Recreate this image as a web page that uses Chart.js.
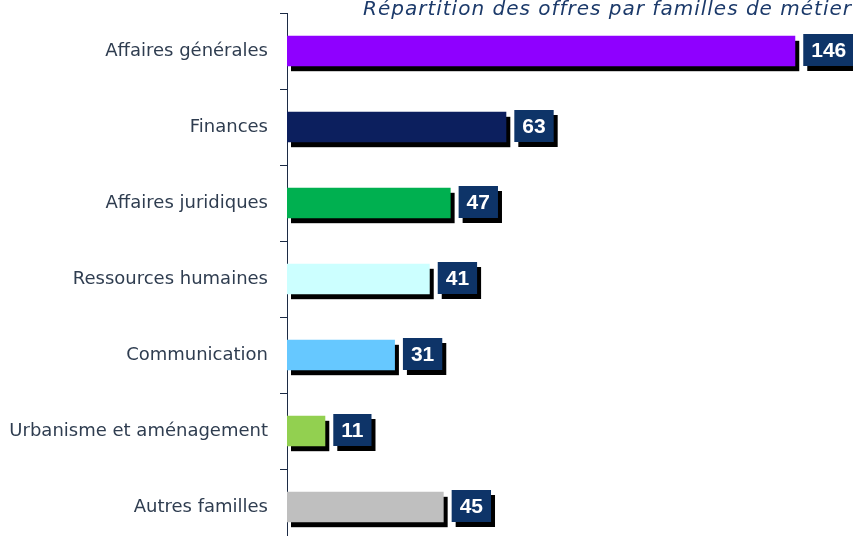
<!DOCTYPE html>
<html>
<head>
<meta charset="utf-8">
<script src="https://cdn.jsdelivr.net/npm/chart.js@4/dist/chart.umd.min.js"></script>
<style>
  html, body { margin: 0; padding: 0; background: #fff; overflow: hidden; }
  #wrap { width: 853px; height: 560px; }
</style>
</head>
<body>
<div id="wrap"><canvas id="myChart" width="853" height="560"></canvas></div>
<script>
var familles = ["Affaires générales", "Finances", "Affaires juridiques", "Ressources humaines",
                "Communication", "Urbanisme et aménagement", "Autres familles"];
var offres = [146, 63, 47, 41, 31, 11, 45];
var couleurs = ["#8f00ff", "#0c1f5e", "#00b050", "#ccffff", "#66c8ff", "#92d050", "#bfbfbf"];
var titre = "Répartition des offres par familles de métier";

// shadow under each bar
var ombres = {
  id: "ombres",
  beforeDatasetsDraw: function (chart) {
    var ctx = chart.ctx;
    ctx.save();
    ctx.fillStyle = "#000";
    chart.getDatasetMeta(0).data.forEach(function (bar) {
      var h = bar.height;
      ctx.fillRect(bar.base + 4, bar.y - h / 2 + 5, bar.x - bar.base, h);
    });
    ctx.restore();
  }
};

// value boxes + title
var etiquettes = {
  id: "etiquettes",
  afterDraw: function (chart) {
    var ctx = chart.ctx;
    ctx.save();
    ctx.font = "bold 21px 'Liberation Sans', Arial, sans-serif";
    ctx.textBaseline = "middle";
    ctx.textAlign = "center";
    chart.getDatasetMeta(0).data.forEach(function (bar, i) {
      var txt = String(offres[i]);
      var w = ctx.measureText(txt).width + 16;
      var x = bar.x + 8, y = bar.y - 17, h = 32;
      ctx.fillStyle = "#000";
      ctx.fillRect(x + 4, y + 5, w, h);
      ctx.fillStyle = "#0e3468";
      ctx.fillRect(x, y, w, h);
      ctx.fillStyle = "#fff";
      ctx.fillText(txt, x + w / 2, y + h / 2 + 1);
    });
    ctx.font = "italic 20px 'DejaVu Sans', sans-serif";
    ctx.letterSpacing = "1px";
    ctx.textAlign = "left";
    ctx.textBaseline = "alphabetic";
    ctx.fillStyle = "#1c3a6a";
    ctx.fillText(titre, 363, 15);
    ctx.restore();
  }
};

new Chart(document.getElementById("myChart"), {
  type: "bar",
  data: {
    labels: familles,
    datasets: [{
      data: offres,
      backgroundColor: couleurs,
      borderWidth: 0,
      barPercentage: 0.4,
      categoryPercentage: 1
    }]
  },
  options: {
    indexAxis: "y",
    responsive: false,
    animation: false,
    layout: { padding: { top: 13, right: 9, bottom: 15, left: 0 } },
    plugins: { legend: { display: false }, tooltip: { enabled: false } },
    scales: {
      x: { display: false, min: 0, max: 160 },
      y: {
        afterFit: function (s) { s.width = 287; s.paddingTop = 0; s.paddingBottom = 0; },
        border: { display: true, color: "#1c2b45", width: 1 },
        grid: { drawOnChartArea: false, drawTicks: true, tickLength: 7, color: "#1c2b45", offset: true },
        ticks: {
          color: "#2f3d50",
          padding: 12,
          font: { family: "'DejaVu Sans', sans-serif", size: 18 }
        }
      }
    }
  },
  plugins: [ombres, etiquettes]
});
</script>
</body>
</html>
